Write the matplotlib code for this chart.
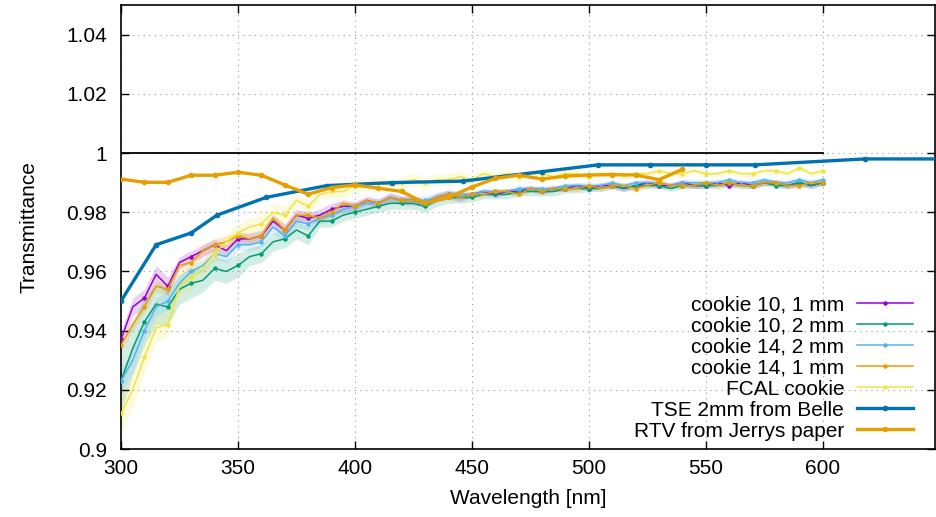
"""Transmittance of optical cookies vs wavelength."""

import matplotlib

matplotlib.use("Agg")
import matplotlib.pyplot as plt
import numpy as np

plt.rcParams["font.family"] = ["Liberation Sans", "DejaVu Sans"]

# measurement grid of the cookie scans [nm]
wavelength = np.arange(300, 601, 5)

cookie10_1mm = [
    0.937, 0.948, 0.951, 0.959, 0.955, 0.963, 0.965, 0.967, 0.969, 0.967,
    0.971, 0.971, 0.972, 0.977, 0.974, 0.979, 0.978, 0.979, 0.981, 0.982,
    0.982, 0.984, 0.983, 0.985, 0.984, 0.984, 0.983, 0.985, 0.986, 0.985,
    0.986, 0.987, 0.986, 0.987, 0.987, 0.988, 0.987, 0.988, 0.988, 0.989,
    0.988, 0.989, 0.989, 0.988, 0.989, 0.990, 0.989, 0.989, 0.990, 0.989,
    0.989, 0.990, 0.989, 0.990, 0.989, 0.990, 0.990, 0.989, 0.990, 0.989,
    0.990,
]
cookie10_2mm = [
    0.923, 0.934, 0.943, 0.949, 0.948, 0.954, 0.956, 0.957, 0.961, 0.960,
    0.962, 0.965, 0.966, 0.970, 0.971, 0.974, 0.972, 0.977, 0.977, 0.979,
    0.980, 0.981, 0.982, 0.983, 0.983, 0.983, 0.982, 0.984, 0.985, 0.985,
    0.985, 0.986, 0.986, 0.986, 0.987, 0.987, 0.987, 0.987, 0.988, 0.988,
    0.988, 0.988, 0.989, 0.988, 0.989, 0.989, 0.989, 0.988, 0.989, 0.989,
    0.989, 0.989, 0.990, 0.989, 0.989, 0.990, 0.989, 0.989, 0.990, 0.989,
    0.990,
]
cookie14_2mm = [
    0.923, 0.930, 0.940, 0.948, 0.950, 0.956, 0.960, 0.962, 0.966, 0.965,
    0.969, 0.969, 0.970, 0.975, 0.972, 0.977, 0.976, 0.978, 0.979, 0.981,
    0.982, 0.983, 0.983, 0.985, 0.984, 0.984, 0.984, 0.985, 0.986, 0.986,
    0.986, 0.987, 0.987, 0.987, 0.988, 0.988, 0.988, 0.988, 0.989, 0.989,
    0.989, 0.989, 0.990, 0.989, 0.990, 0.990, 0.990, 0.989, 0.990, 0.990,
    0.990, 0.990, 0.991, 0.990, 0.990, 0.991, 0.990, 0.990, 0.991, 0.990,
    0.991,
]
cookie14_1mm = [
    0.935, 0.942, 0.948, 0.955, 0.954, 0.962, 0.963, 0.967, 0.969, 0.970,
    0.972, 0.971, 0.972, 0.978, 0.974, 0.979, 0.979, 0.978, 0.980, 0.983,
    0.982, 0.984, 0.983, 0.985, 0.984, 0.984, 0.983, 0.985, 0.986, 0.985,
    0.986, 0.986, 0.987, 0.987, 0.986, 0.988, 0.987, 0.988, 0.988, 0.988,
    0.989, 0.988, 0.989, 0.989, 0.988, 0.989, 0.990, 0.989, 0.989, 0.989,
    0.990, 0.989, 0.990, 0.989, 0.989, 0.990, 0.990, 0.989, 0.989, 0.990,
    0.990,
]
fcal_cookie = [
    0.912, 0.920, 0.931, 0.941, 0.942, 0.955, 0.958, 0.961, 0.966, 0.970,
    0.973, 0.975, 0.976, 0.980, 0.979, 0.984, 0.982, 0.986, 0.987, 0.987,
    0.989, 0.989, 0.990, 0.989, 0.990, 0.991, 0.990, 0.991, 0.991, 0.992,
    0.991, 0.993, 0.992, 0.993, 0.992, 0.993, 0.993, 0.992, 0.993, 0.993,
    0.992, 0.993, 0.993, 0.992, 0.993, 0.993, 0.994, 0.993, 0.993, 0.994,
    0.993, 0.993, 0.994, 0.993, 0.993, 0.994, 0.994, 0.993, 0.995, 0.993,
    0.994,
]

# uncertainties of the scans
cookie10_1mm_err = [
    0.003, 0.003, 0.003, 0.003, 0.003, 0.002, 0.002, 0.002, 0.002, 0.002,
    0.002, 0.002, 0.002, 0.002, 0.002, 0.002, 0.002, 0.002, 0.002, 0.002,
    0.0015, 0.0015, 0.0015, 0.0015, 0.0015, 0.0015, 0.0015, 0.0015, 0.0015, 0.0015,
    0.001, 0.001, 0.001, 0.001, 0.001, 0.001, 0.001, 0.001, 0.001, 0.001,
    0.001, 0.001, 0.001, 0.001, 0.001, 0.001, 0.001, 0.001, 0.001, 0.001,
    0.001, 0.001, 0.001, 0.001, 0.001, 0.001, 0.001, 0.001, 0.001, 0.001,
    0.001,
]
cookie10_2mm_err = [
    0.010, 0.009, 0.008, 0.007, 0.006, 0.005, 0.005, 0.004, 0.004, 0.004,
    0.004, 0.003, 0.003, 0.003, 0.003, 0.003, 0.003, 0.002, 0.002, 0.002,
    0.002, 0.002, 0.002, 0.002, 0.002, 0.002, 0.002, 0.002, 0.002, 0.002,
    0.0015, 0.0015, 0.0015, 0.0015, 0.0015, 0.0015, 0.0015, 0.0015, 0.0015, 0.0015,
    0.001, 0.001, 0.001, 0.001, 0.001, 0.001, 0.001, 0.001, 0.001, 0.001,
    0.001, 0.001, 0.001, 0.001, 0.001, 0.001, 0.001, 0.001, 0.001, 0.001,
    0.001,
]
cookie14_2mm_err = [
    0.004, 0.004, 0.003, 0.003, 0.003, 0.003, 0.002, 0.002, 0.002, 0.002,
    0.002, 0.002, 0.002, 0.002, 0.002, 0.002, 0.002, 0.002, 0.002, 0.002,
    0.0015, 0.0015, 0.0015, 0.0015, 0.0015, 0.0015, 0.0015, 0.0015, 0.0015, 0.0015,
    0.001, 0.001, 0.001, 0.001, 0.001, 0.001, 0.001, 0.001, 0.001, 0.001,
    0.001, 0.001, 0.001, 0.001, 0.001, 0.001, 0.001, 0.001, 0.001, 0.001,
    0.001, 0.001, 0.001, 0.001, 0.001, 0.001, 0.001, 0.001, 0.001, 0.001,
    0.001,
]
cookie14_1mm_err = [
    0.002, 0.002, 0.002, 0.002, 0.002, 0.002, 0.002, 0.002, 0.002, 0.002,
    0.0015, 0.0015, 0.0015, 0.0015, 0.0015, 0.0015, 0.0015, 0.0015, 0.0015, 0.0015,
    0.001, 0.001, 0.001, 0.001, 0.001, 0.001, 0.001, 0.001, 0.001, 0.001,
    0.001, 0.001, 0.001, 0.001, 0.001, 0.001, 0.001, 0.001, 0.001, 0.001,
    0.001, 0.001, 0.001, 0.001, 0.001, 0.001, 0.001, 0.001, 0.001, 0.001,
    0.001, 0.001, 0.001, 0.001, 0.001, 0.001, 0.001, 0.001, 0.001, 0.001,
    0.001,
]
fcal_cookie_err = [
    0.007, 0.006, 0.005, 0.005, 0.004, 0.004, 0.004, 0.003, 0.003, 0.003,
    0.003, 0.003, 0.003, 0.003, 0.003, 0.002, 0.002, 0.002, 0.002, 0.002,
    0.002, 0.002, 0.002, 0.002, 0.002, 0.002, 0.002, 0.002, 0.002, 0.002,
    0.0015, 0.0015, 0.0015, 0.0015, 0.0015, 0.0015, 0.0015, 0.0015, 0.0015, 0.0015,
    0.001, 0.001, 0.001, 0.001, 0.001, 0.001, 0.001, 0.001, 0.001, 0.001,
    0.001, 0.001, 0.001, 0.001, 0.001, 0.001, 0.001, 0.001, 0.001, 0.001,
    0.001,
]

# reference curves
tse_wavelength = [300, 315, 330, 341, 362, 388, 416, 446, 480, 504, 526, 550, 571, 618, 650]
tse_belle = [0.950, 0.969, 0.973, 0.979, 0.985, 0.989, 0.990, 0.9905, 0.9937,
             0.996, 0.996, 0.996, 0.996, 0.998, 0.998]

rtv_wavelength = [300, 310, 320, 330, 340, 350, 360, 370, 380, 390, 400, 410, 420,
                  430, 440, 450, 460, 470, 480, 490, 500, 510, 520, 530, 540]
rtv_jerry = [0.9912, 0.9901, 0.9901, 0.9925, 0.9925, 0.9935, 0.9925, 0.9892, 0.9861,
             0.9883, 0.9892, 0.9881, 0.9870, 0.9830, 0.9850, 0.9885, 0.9914, 0.9925,
             0.9912, 0.9922, 0.9926, 0.9927, 0.9926, 0.9910, 0.9945]

unity_wavelength = [300, 600]
unity = [1.0, 1.0]

y_ticks = [0.9, 0.92, 0.94, 0.96, 0.98, 1.0, 1.02, 1.04]
y_tick_labels = ["0.9", "0.92", "0.94", "0.96", "0.98", "1", "1.02", "1.04"]
x_ticks = [300, 350, 400, 450, 500, 550, 600]

cookies = [
    ("cookie 10, 1 mm", cookie10_1mm, cookie10_1mm_err, "#9400d3"),
    ("cookie 10, 2 mm", cookie10_2mm, cookie10_2mm_err, "#009e73"),
    ("cookie 14, 2 mm", cookie14_2mm, cookie14_2mm_err, "#56b4e9"),
    ("cookie 14, 1 mm", cookie14_1mm, cookie14_1mm_err, "#e69f00"),
    ("FCAL cookie", fcal_cookie, fcal_cookie_err, "#f0e442"),
]

FS = 15

fig = plt.figure(figsize=(9.36, 5.17), dpi=100)
ax = fig.add_axes([0.1293, 0.1315, 0.8697, 0.8588])

ax.plot(unity_wavelength, unity, color="black", lw=1.3, zorder=2)

for label, values, err, color in cookies:
    values = np.asarray(values)
    err = np.asarray(err)
    ax.fill_between(wavelength, values - err, values + err, color=color,
                    alpha=0.18, lw=0, zorder=1)
    ax.plot(wavelength, values, color=color, lw=1.1, marker="o", ms=2.2,
            markevery=2, label=label, zorder=3)

ax.plot(tse_wavelength, tse_belle, color="#0072b2", lw=2.4, marker="o", ms=3,
        label="TSE 2mm from Belle", zorder=4)
ax.plot(rtv_wavelength, rtv_jerry, color="#e69f00", lw=2.4, marker="o", ms=3,
        label="RTV from Jerrys paper", zorder=5)

ax.set_xlim(300, 648)
ax.set_ylim(0.9, 1.05)
ax.set_xticks(x_ticks)
ax.set_yticks(y_ticks, labels=y_tick_labels)
ax.tick_params(axis="x", pad=7)
ax.tick_params(axis="y", pad=10)
ax.tick_params(direction="in", length=6, width=1, top=True, right=True,
               labelsize=FS)
ax.grid(True, linestyle=(0, (1, 4)), color="#999999", lw=0.8)
for spine in ax.spines.values():
    spine.set_linewidth(1.2)

ax.set_xlabel("Wavelength [nm]", fontsize=FS, labelpad=8)
ax.set_ylabel("Transmittance", fontsize=FS, labelpad=20)

# markerfirst=False puts the sample right of the text and right-aligns the text
ax.legend(loc="lower right", bbox_to_anchor=(0.983, 0.0), frameon=False,
          markerfirst=False, fontsize=FS, handlelength=2.7,
          handletextpad=0.6, labelspacing=0.1, borderaxespad=0.0)

fig.savefig("out.png", dpi=100)
